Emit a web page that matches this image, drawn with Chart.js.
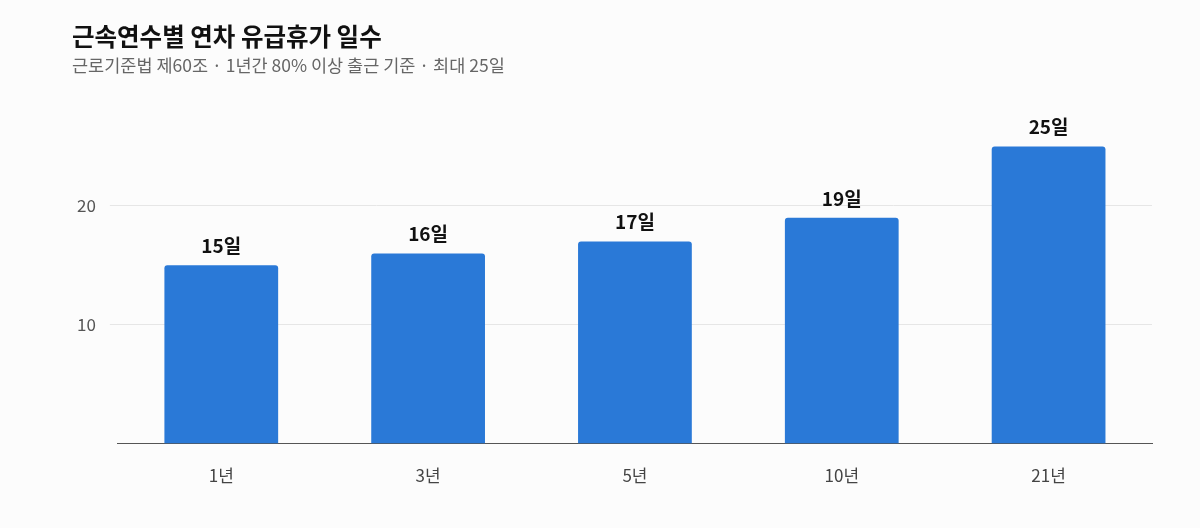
<!DOCTYPE html>
<html><head><meta charset="utf-8">
<script src="https://cdn.jsdelivr.net/npm/chart.js@4"></script>
<style>
html,body{margin:0;padding:0;background:#fcfcfc;font-family:"Noto Sans CJK KR","Noto Sans",sans-serif;}
#wrap{position:relative;width:1200px;height:528px;}
#t{position:absolute;left:72px;top:18px;font-size:24.5px;font-weight:700;color:#111;}
#s{position:absolute;left:72px;top:52px;font-size:17.5px;color:#666;}
canvas{position:absolute;left:0;top:0;}
</style></head><body>
<div id="wrap"><canvas id="c" width="1200" height="528"></canvas>
<div id="t">근속연수별 연차 유급휴가 일수</div>
<div id="s">근로기준법 제60조 · 1년간 80% 이상 출근 기준 · 최대 25일</div></div>
<script>
const categories=["1년","3년","5년","10년","21년"];
const days=[15,16,17,19,25];
const labels=["15일","16일","17일","19일","25일"];
const font='"Noto Sans CJK KR","Noto Sans",sans-serif';
const valueLabels={id:'vl',afterDatasetsDraw(ch){const c=ch.ctx;const m=ch.getDatasetMeta(0);c.save();c.font='700 19px '+font;c.fillStyle='#111';c.textAlign='center';c.textBaseline='bottom';m.data.forEach((b,i)=>c.fillText(labels[i],b.x,b.y-10));c.restore();}};
new Chart(document.getElementById('c'),{type:'bar',
data:{labels:categories,datasets:[{data:days,backgroundColor:'#2a79d7',borderRadius:{topLeft:3,topRight:3},borderSkipped:'bottom',categoryPercentage:0.55,barPercentage:1}]},
options:{responsive:false,animation:false,devicePixelRatio:1,
layout:{padding:{top:99,left:63,right:48,bottom:28}},
plugins:{legend:{display:false},tooltip:{enabled:false}},
scales:{x:{grid:{display:false},border:{color:'#555',width:1},ticks:{font:{family:font,size:17},color:'#444',padding:14}},
y:{min:0,max:29,afterBuildTicks(a){a.ticks=[{value:10},{value:20}];},grid:{color:'#e6e6e6'},border:{display:false},ticks:{font:{family:font,size:17},color:'#555',padding:14}}}},
plugins:[valueLabels]});
</script></body></html>
